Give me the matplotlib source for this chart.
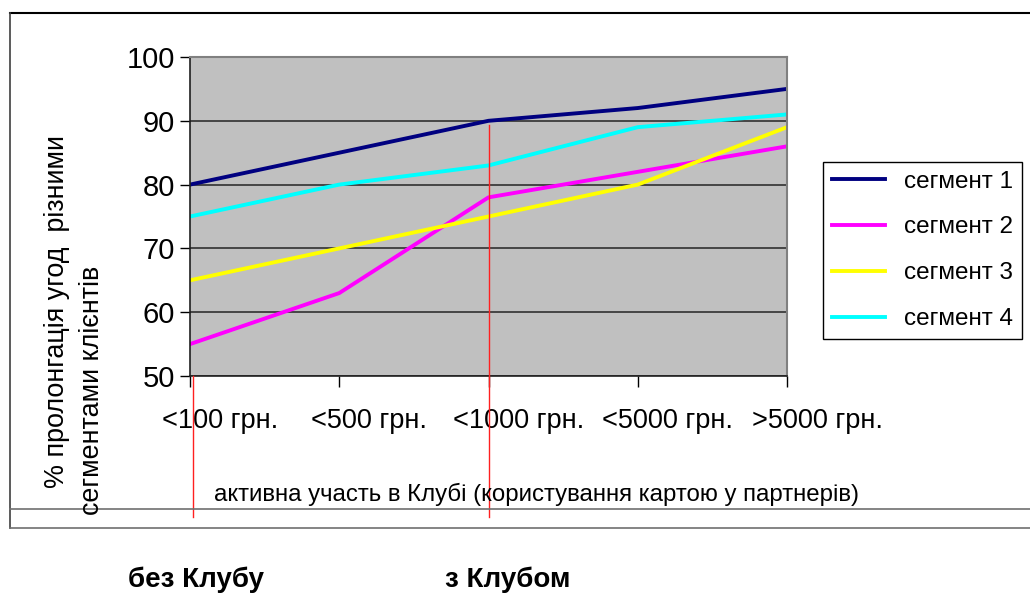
import numpy as np
import matplotlib
matplotlib.use("Agg")
import matplotlib.pyplot as plt
import matplotlib.transforms as mtransforms
from matplotlib.lines import Line2D

plt.rcParams['font.family'] = ['Liberation Sans', 'DejaVu Sans']

# дані з діаграми
categories = ["<100 грн.", "<500 грн.", "<1000 грн.", "<5000 грн.", ">5000 грн."]
seg1 = [80, 85, 90, 92, 95]
seg2 = [55, 63, 78, 82, 86]
seg3 = [65, 70, 75, 80, 89]
seg4 = [75, 80, 83, 89, 91]
series_names = ["сегмент 1", "сегмент 2", "сегмент 3", "сегмент 4"]
series_colors = ["#000080", "#FF00FF", "#FFFF00", "#00FFFF"]
y_ticks = [50, 60, 70, 80, 90, 100]

W, H = 1030, 595
fig = plt.figure(figsize=(W / 100, H / 100), dpi=100)


def fx(px):
    return px / W


def fy(py):
    return 1 - py / H


# рамка навколо діаграми
fig.add_artist(Line2D([fx(10), fx(1030)], [fy(13), fy(13)], color="black", lw=1.5))
fig.add_artist(Line2D([fx(10), fx(10)], [fy(13), fy(528)], color="#404040", lw=1.2))
fig.add_artist(Line2D([fx(10), fx(1030)], [fy(528), fy(528)], color="#707070", lw=1.2))
fig.add_artist(Line2D([fx(10), fx(1030)], [fy(509), fy(509)], color="#707070", lw=1.2))

ax = fig.add_axes([fx(190), fy(376), fx(787 - 190), (376 - 57) / H])
ax.set_facecolor("#C0C0C0")

x = np.arange(len(categories))
for vals, name, col in zip([seg1, seg2, seg3, seg4], series_names, series_colors):
    ax.plot(x, vals, color=col, lw=2.8, label=name, solid_joinstyle="round")

ax.set_xlim(0, len(categories) - 1)
ax.set_ylim(50, 100)
ax.set_yticks(y_ticks)
ax.set_xticks(x)
ax.set_xticklabels(categories, fontsize=19.5)
ax.tick_params(axis="y", labelsize=21, length=7, width=1, pad=4, direction="out")
ax.tick_params(axis="x", length=8, width=1, pad=15, direction="out")
ax.grid(axis="y", color="#303030", lw=1.2)
ax.set_axisbelow(True)
for side in ["top", "right"]:
    ax.spines[side].set_color("#808080")
    ax.spines[side].set_linewidth(1.5)
for side in ["left", "bottom"]:
    ax.spines[side].set_color("#202020")
    ax.spines[side].set_linewidth(1.2)

# підписи категорій зсунуті праворуч, як в Excel
shift = mtransforms.ScaledTranslation(0.30, 0, fig.dpi_scale_trans)
for lbl in ax.get_xticklabels():
    lbl.set_transform(lbl.get_transform() + shift)

# червоні вертикальні лінії
ax.axvline(2, ymin=-0.442, ymax=0.787, color="#FF2020", lw=1, clip_on=False, zorder=5)
ax.axvline(0.02, ymin=-0.442, ymax=0.0, color="#FF2020", lw=1, clip_on=False, zorder=5)

leg = ax.legend(loc="upper left", bbox_to_anchor=(fx(823), fy(162)),
                bbox_transform=fig.transFigure, fontsize=17.5, frameon=True,
                fancybox=False, edgecolor="black", framealpha=1,
                handlelength=2.2, handletextpad=0.8, labelspacing=0.98,
                borderpad=0.35, borderaxespad=0)
leg.get_frame().set_linewidth(1)

# підписи осей
fig.text(fx(57), fy(488), "% пролонгація угод  різними", rotation=90,
         ha="center", va="bottom", fontsize=19.4)
fig.text(fx(92), fy(515), "сегментами клієнтів", rotation=90,
         ha="center", va="bottom", fontsize=19.4)
fig.text(fx(536), fy(494), "активна участь в Клубі (користування картою у партнерів)",
         ha="center", va="center", fontsize=17.3)

fig.text(fx(196), fy(580), "без Клубу", ha="center", va="center",
         fontsize=20, fontweight="bold")
fig.text(fx(508), fy(580), "з Клубом", ha="center", va="center",
         fontsize=20, fontweight="bold")

fig.savefig("out.png", dpi=100)
